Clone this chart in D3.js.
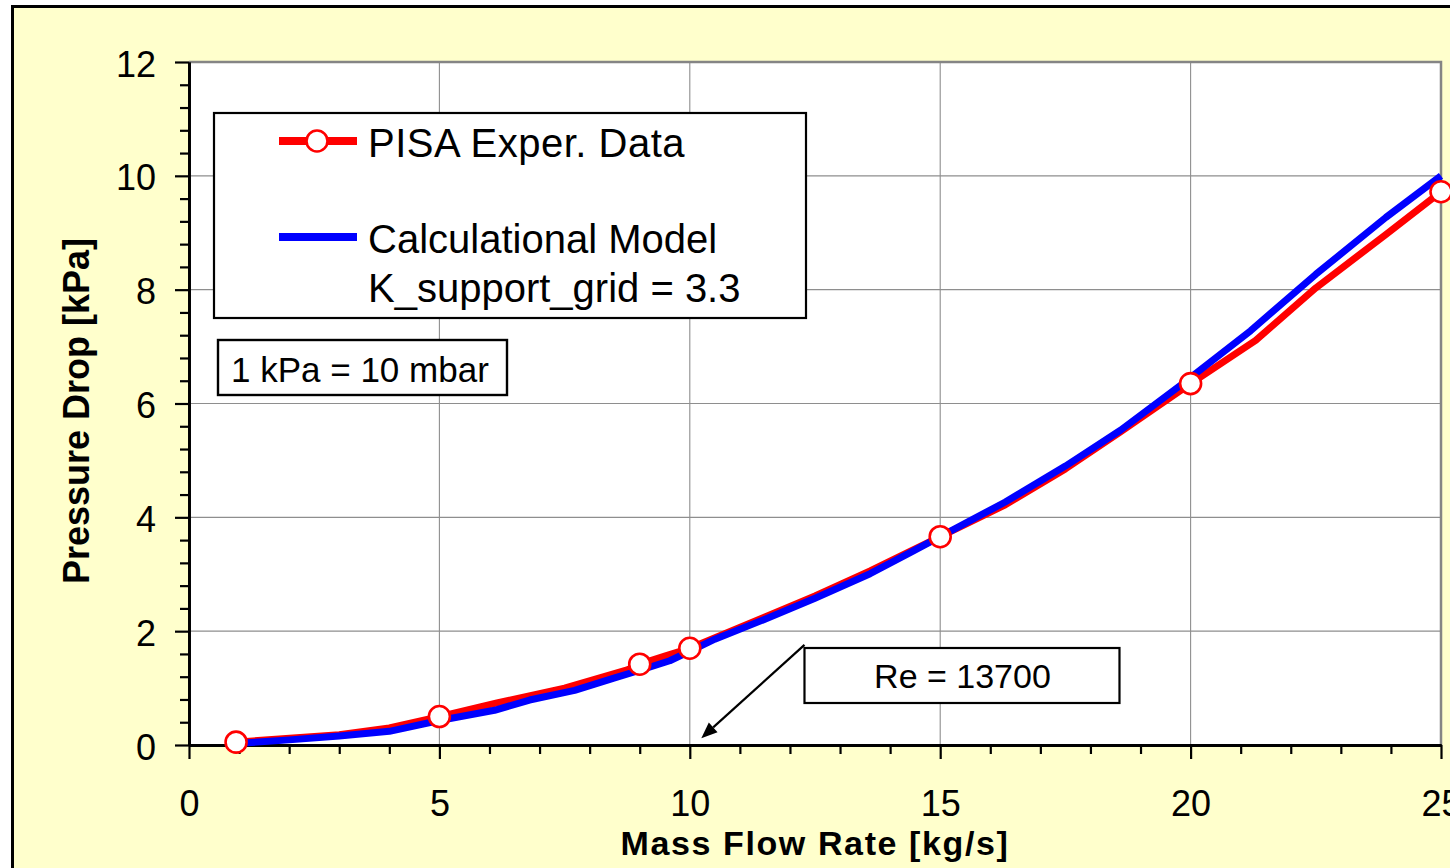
<!DOCTYPE html>
<html>
<head>
<meta charset="utf-8">
<script src="https://cdn.jsdelivr.net/npm/d3@7"></script>
<style>
  html, body { margin: 0; padding: 0; background: #ffffff; }
  svg { display: block; font-family: "Liberation Sans", Arial, Helvetica, sans-serif; }
</style>
</head>
<body>
<svg id="chart" width="1450" height="868"></svg>
<script>
// Measured pressure drop (markers)
const expFlow = [0.94, 5.0, 9.0, 10.0, 15.0, 20.0, 25.0];
const expDrop = [0.05, 0.50, 1.42, 1.70, 3.66, 6.35, 9.72];

// Measured pressure drop trace (red line)
const expLineFlow = [0.94, 3.0, 4.0, 5.0, 6.15, 7.5, 8.75, 9.0, 9.5, 10.0, 11.5, 12.5, 13.6, 15.0, 16.3, 17.5, 18.6, 20.0, 21.3, 22.5, 23.9, 25.0];
const expLineDrop = [0.05, 0.18, 0.30, 0.50, 0.74, 1.00, 1.32, 1.42, 1.56, 1.70, 2.25, 2.62, 3.06, 3.66, 4.22, 4.85, 5.50, 6.35, 7.11, 8.03, 8.97, 9.72];

// Calculational model (blue line)
const modelFlow = [1.0, 2.0, 3.0, 4.0, 5.0, 6.1, 6.8, 7.7, 8.5, 9.1, 9.6, 10.1, 10.5, 11.5, 12.5, 13.6, 14.4, 15.0, 16.3, 17.5, 18.6, 19.8, 20.5, 21.2, 22.5, 23.9, 25.0];
const modelDrop = [0.03, 0.09, 0.16, 0.24, 0.43, 0.61, 0.79, 0.96, 1.18, 1.34, 1.48, 1.69, 1.86, 2.21, 2.58, 3.01, 3.38, 3.66, 4.27, 4.90, 5.53, 6.32, 6.80, 7.28, 8.27, 9.27, 10.0];

// Axis ticks
const xTicks = [0, 5, 10, 15, 20, 25];
const yTicks = [0, 2, 4, 6, 8, 10, 12];

// Texts
const xTitle = "Mass Flow Rate [kg/s]";
const yTitle = "Pressure Drop [kPa]";
const legendExp = "PISA Exper. Data";
const legendModel = ["Calculational Model", "K_support_grid = 3.3"];
const unitNote = "1 kPa = 10 mbar";
const reNote = "Re = 13700";
const reArrowTip = [10.23, 0.12];   // data coords of arrow tip
const reArrowTail = [12.29, 1.76];  // data coords of arrow tail

const svg = d3.select("#chart");
const W = 1450, H = 868;
const L = 189, R = 1441, T = 62, B = 745;

const x = d3.scaleLinear().domain([0, 25]).range([L, R]);
const y = d3.scaleLinear().domain([0, 12]).range([B, T]);

// outer frame
svg.append("rect").attr("x", 12.5).attr("y", 6.5).attr("width", W + 20).attr("height", H + 20)
  .attr("fill", "#ffffcc").attr("stroke", "#000").attr("stroke-width", 3);

// plot area
svg.append("rect").attr("x", L).attr("y", T).attr("width", R - L).attr("height", B - T).attr("fill", "#fff");

// grid
const grid = svg.append("g").attr("stroke", "#8e8e8e").attr("stroke-width", 1.1);
grid.selectAll("line.v").data(xTicks.filter(v => v > 0 && v < 25)).join("line")
  .attr("x1", d => x(d)).attr("x2", d => x(d)).attr("y1", T).attr("y2", B);
grid.selectAll("line.h").data(yTicks.filter(v => v > 0 && v < 12)).join("line")
  .attr("class", "h")
  .attr("x1", L).attr("x2", R).attr("y1", d => y(d)).attr("y2", d => y(d));

// plot frame (top/right)
svg.append("path").attr("d", `M${L},${T}H${R}V${B}`).attr("fill", "none")
  .attr("stroke", "#858585").attr("stroke-width", 2.5);

// minor ticks
const xMinor = d3.range(0, 26, 1).filter(v => v % 5 !== 0);
const yMinor = d3.range(0, 12.01, 0.4).map(v => +v.toFixed(1)).filter(v => Math.abs(v / 2 - Math.round(v / 2)) > 1e-6);

const xMinorAxis = svg.append("g").attr("transform", `translate(0,${B})`)
  .call(d3.axisBottom(x).tickValues(xMinor).tickSize(9).tickSizeOuter(0).tickFormat(""));
const yMinorAxis = svg.append("g").attr("transform", `translate(${L},0)`)
  .call(d3.axisLeft(y).tickValues(yMinor).tickSize(9).tickSizeOuter(0).tickFormat(""));

// major axes
const xAxis = svg.append("g").attr("transform", `translate(0,${B})`)
  .call(d3.axisBottom(x).tickValues(xTicks).tickSize(14).tickSizeOuter(0).tickPadding(0));
const yAxis = svg.append("g").attr("transform", `translate(${L},0)`)
  .call(d3.axisLeft(y).tickValues(yTicks).tickSize(14).tickSizeOuter(0).tickPadding(0));

[xMinorAxis, yMinorAxis, xAxis, yAxis].forEach(g => {
  g.selectAll(".tick line").attr("stroke", "#000").attr("stroke-width", 2.2);
  g.select(".domain").attr("stroke", "#000").attr("stroke-width", 2.8);
});

xAxis.selectAll(".tick text")
  .attr("y", 71).attr("dy", 0)
  .attr("font-size", 36).attr("fill", "#000").attr("font-family", "Liberation Sans, Arial, sans-serif");
yAxis.selectAll(".tick text")
  .attr("x", -33).attr("dy", 14)
  .attr("font-size", 36).attr("fill", "#000").attr("font-family", "Liberation Sans, Arial, sans-serif");

// axis titles
svg.append("text").attr("x", (L + R) / 2).attr("y", 855).attr("text-anchor", "middle")
  .attr("font-size", 34).attr("font-weight", "bold").attr("letter-spacing", 1.6).text(xTitle);
svg.append("text").attr("transform", `translate(89,${411}) rotate(-90)`).attr("text-anchor", "middle")
  .attr("font-size", 36).attr("font-weight", "bold").text(yTitle);

// series
const expLine = expLineFlow.map((f, i) => [f, expLineDrop[i]]);
const model = modelFlow.map((f, i) => [f, modelDrop[i]]);
const expPts = expFlow.map((f, i) => [f, expDrop[i]]);

const line = d3.line().x(d => x(d[0])).y(d => y(d[1])).curve(d3.curveLinear);

svg.append("path").datum(expLine).attr("d", line).attr("fill", "none")
  .attr("stroke", "#ff0000").attr("stroke-width", 7).attr("stroke-linejoin", "round");
svg.append("path").datum(model).attr("d", line).attr("fill", "none")
  .attr("stroke", "#0000ff").attr("stroke-width", 7).attr("stroke-linejoin", "round");

svg.append("g").selectAll("circle").data(expPts).join("circle")
  .attr("cx", d => x(d[0])).attr("cy", d => y(d[1])).attr("r", 10.5)
  .attr("fill", "#fff").attr("stroke", "#ff0000").attr("stroke-width", 2.6);

// legend
const lg = svg.append("g");
lg.append("rect").attr("x", 214).attr("y", 113).attr("width", 592).attr("height", 205)
  .attr("fill", "#fff").attr("stroke", "#000").attr("stroke-width", 2.2);
lg.append("line").attr("x1", 279).attr("x2", 357).attr("y1", 141).attr("y2", 141)
  .attr("stroke", "#ff0000").attr("stroke-width", 8);
lg.append("circle").attr("cx", 317).attr("cy", 141).attr("r", 10.5)
  .attr("fill", "#fff").attr("stroke", "#ff0000").attr("stroke-width", 2.6);
lg.append("line").attr("x1", 279).attr("x2", 357).attr("y1", 237).attr("y2", 237)
  .attr("stroke", "#0000ff").attr("stroke-width", 8);
lg.append("text").attr("x", 368).attr("y", 157).attr("font-size", 40).attr("letter-spacing", 0.5).text(legendExp);
lg.append("text").attr("x", 368).attr("y", 253).attr("font-size", 40).text(legendModel[0]);
lg.append("text").attr("x", 368).attr("y", 302).attr("font-size", 40).text(legendModel[1]);

// unit note
svg.append("rect").attr("x", 218).attr("y", 340).attr("width", 289).attr("height", 55)
  .attr("fill", "#fff").attr("stroke", "#000").attr("stroke-width", 2.4);
svg.append("text").attr("x", 231).attr("y", 382).attr("font-size", 35).text(unitNote);

// Reynolds annotation
const tip = [x(reArrowTip[0]), y(reArrowTip[1])];
const tail = [x(reArrowTail[0]), y(reArrowTail[1])];
svg.append("rect").attr("x", tail[0]).attr("y", 648).attr("width", 315).attr("height", 55)
  .attr("fill", "#fff").attr("stroke", "#000").attr("stroke-width", 2.2);
svg.append("text").attr("x", tail[0] + 158).attr("y", 688).attr("text-anchor", "middle")
  .attr("font-size", 34).text(reNote);

const ang = Math.atan2(tip[1] - tail[1], tip[0] - tail[0]);
const headLen = 16, headW = 6.5;
const base = [tip[0] - headLen * Math.cos(ang), tip[1] - headLen * Math.sin(ang)];
svg.append("line").attr("x1", tail[0]).attr("y1", tail[1]).attr("x2", base[0]).attr("y2", base[1])
  .attr("stroke", "#000").attr("stroke-width", 2.2);
svg.append("path").attr("d", d3.line()([
  tip,
  [base[0] + headW * Math.sin(ang), base[1] - headW * Math.cos(ang)],
  [base[0] - headW * Math.sin(ang), base[1] + headW * Math.cos(ang)]
]) + "Z").attr("fill", "#000");
</script>
</body>
</html>
